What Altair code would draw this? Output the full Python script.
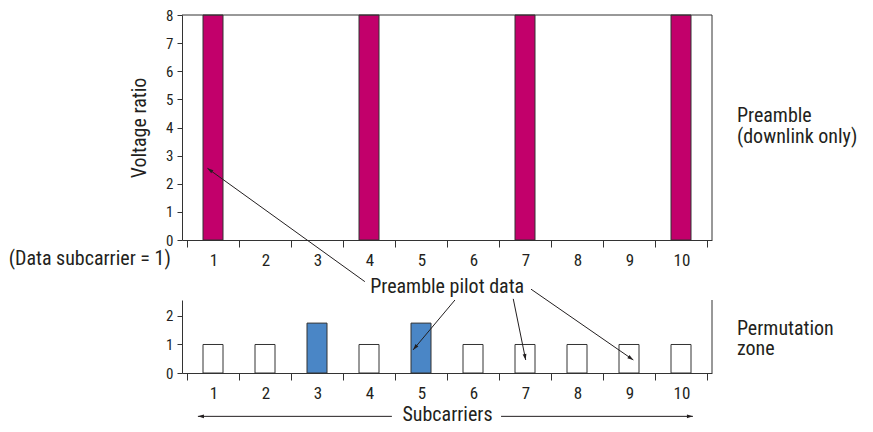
import math
import altair as alt
import pandas as pd

# ---------------- data ----------------
subcarriers = list(range(1, 11))
preamble_carriers = [1, 4, 7, 10]
preamble_ratio = [8, 8, 8, 8]
permutation_ratio = [1, 1, 1.75, 1, 1.75, 1, 1, 1, 1, 1]
permutation_kind = ["data", "data", "pilot", "data", "pilot",
                    "data", "data", "data", "data", "data"]
tick_positions = [i + 0.5 for i in range(11)]
top_y_ticks = list(range(0, 9))
bottom_y_ticks = [0, 1, 2]

note_text = ["(Data subcarrier = 1)", "Preamble", "(downlink only)",
             "Preamble pilot data", "Permutation", "zone"]
note_x = [-2.77, 10.97, 10.97, 4.05, 10.97, 10.97]
note_y = [-0.89, 4.19, 3.45, 2.81, 1.33, 0.63]
note_panel = ["top", "top", "top", "bottom", "bottom", "bottom"]

arrow_x1 = [3.95, 5.65, 6.75, 7.085, 4.46, 6.52]
arrow_y1 = [-1.48, 2.56, 2.60, 2.94, -1.52, -1.52]
arrow_x2 = [0.98, 4.86, 6.985, 9.016, 0.80, 10.14]
arrow_y2 = [2.55, 0.81, 0.456, 0.456, -1.52, -1.52]
arrow_panel = ["top", "bottom", "bottom", "bottom", "bottom", "bottom"]

# ---------------- layout / style ----------------
W, H = 530, 358
TOP_H = 225
BOT_TOP = 285
FONT = "Roboto Condensed, Liberation Sans Narrow, Arial Narrow, Roboto, sans-serif"
INK = "#231f20"
MAGENTA = "#c2006b"
BLUE = "#4a86c6"

X_DOM = [0.5, 10.5]
Y_TOP_DOM = [0, 8]
Y_BOT_DOM = [0, 2.56]

px_x = W / (X_DOM[1] - X_DOM[0])
px_top = TOP_H / (Y_TOP_DOM[1] - Y_TOP_DOM[0])
px_bot = (H - BOT_TOP) / (Y_BOT_DOM[1] - Y_BOT_DOM[0])


def xs():
    return alt.Scale(domain=X_DOM, zero=False, nice=False)


def yts():
    return alt.Scale(domain=Y_TOP_DOM, range=[TOP_H, 0], zero=False, nice=False)


def ybs():
    return alt.Scale(domain=Y_BOT_DOM, range=[H, BOT_TOP], zero=False, nice=False)


def x_axis(offset, title=None):
    kw = dict(
        values=tick_positions,
        labelExpr="datum.value < 10 ? format(datum.value + 0.5, 'd') : ''",
        labelOffset=px_x / 2,
        labelFlush=False,
        labelOverlap=False,
        labelBound=False,
        labelFontSize=17,
        tickSize=7,
        labelPadding=5,
        offset=offset,
        orient="bottom",
        grid=False,
    )
    if title:
        kw["title"] = title
        kw["titlePadding"] = 3
        kw["titleFontSize"] = 20
    else:
        kw["title"] = None
    return alt.Axis(**kw)


top_df = pd.DataFrame({"sub": preamble_carriers, "ratio": preamble_ratio})
bot_df = pd.DataFrame({"sub": subcarriers, "ratio": permutation_ratio,
                       "kind": permutation_kind})

top_bars = alt.Chart(top_df).mark_bar(
    width=20, orient="vertical", color=MAGENTA, stroke="#333333", strokeWidth=1
).encode(
    x=alt.X("sub:Q", scale=xs(), axis=x_axis(-(H - TOP_H))),
    y=alt.Y("ratio:Q", scale=yts(),
            axis=alt.Axis(values=top_y_ticks, title="Voltage ratio", tickSize=5,
                          labelPadding=4, labelFontSize=15, titlePadding=16,
                          titleFontSize=20, grid=False, orient="left")),
    y2=alt.datum(0),
)

bot_bars = alt.Chart(bot_df).mark_bar(
    width=20, orient="vertical", stroke="#333333", strokeWidth=1
).encode(
    x=alt.X("sub:Q", scale=xs(), axis=x_axis(0, "Subcarriers")),
    y=alt.Y("ratio:Q", scale=ybs(),
            axis=alt.Axis(values=bottom_y_ticks, title=None, tickSize=5,
                          labelPadding=4, labelFontSize=15, grid=False,
                          orient="left")),
    y2=alt.datum(0),
    fill=alt.Fill("kind:N", scale=alt.Scale(domain=["data", "pilot"],
                                            range=["white", BLUE]),
                  legend=None),
)

# frame lines (top panel box, bottom panel right edge)
frame_top_df = pd.DataFrame({"x": [X_DOM[0], X_DOM[1]], "x2": [X_DOM[1], X_DOM[1]],
                             "y": [Y_TOP_DOM[1], Y_TOP_DOM[0]],
                             "y2": [Y_TOP_DOM[1], Y_TOP_DOM[1]]})
frame_bot_df = pd.DataFrame({"x": [X_DOM[1]], "x2": [X_DOM[1]],
                             "y": [Y_BOT_DOM[0]], "y2": [Y_BOT_DOM[1]]})


def rules(df, yscale, color="#333333"):
    return alt.Chart(df).mark_rule(color=color, strokeWidth=1).encode(
        x=alt.X("x:Q", scale=xs(), axis=None),
        x2="x2:Q",
        y=alt.Y("y:Q", scale=yscale, axis=None),
        y2="y2:Q",
    )


frame_top = rules(frame_top_df, yts())
frame_bot = rules(frame_bot_df, ybs())

# arrows
arr = pd.DataFrame({"x": arrow_x1, "y": arrow_y1, "x2": arrow_x2, "y2": arrow_y2,
                    "panel": arrow_panel})
angles = []
for x1, y1, x2, y2, p in zip(arrow_x1, arrow_y1, arrow_x2, arrow_y2, arrow_panel):
    py = px_top if p == "top" else px_bot
    dx = (x2 - x1) * px_x
    dy = -(y2 - y1) * py
    angles.append(math.degrees(math.atan2(dx, -dy)) % 360)
arr["angle"] = angles

HEAD = "M0,0L0.6,1.9L-0.6,1.9Z"


def arrow_layers(panel, yscale):
    d = arr[arr["panel"] == panel]
    shaft = alt.Chart(d).mark_rule(color=INK, strokeWidth=1).encode(
        x=alt.X("x:Q", scale=xs(), axis=None),
        x2="x2:Q",
        y=alt.Y("y:Q", scale=yscale, axis=None),
        y2="y2:Q",
    )
    head = alt.Chart(d).mark_point(
        shape=HEAD, filled=True, color=INK, size=40, opacity=1
    ).encode(
        x=alt.X("x2:Q", scale=xs(), axis=None),
        y=alt.Y("y2:Q", scale=yscale, axis=None),
        angle=alt.Angle("angle:Q", scale=None),
    )
    return [shaft, head]


notes = pd.DataFrame({"text": note_text, "x": note_x, "y": note_y, "panel": note_panel})


def note_layer(panel, yscale):
    d = notes[notes["panel"] == panel]
    return alt.Chart(d).mark_text(
        align="left", baseline="alphabetic", font=FONT, fontSize=20, color=INK
    ).encode(
        x=alt.X("x:Q", scale=xs(), axis=None),
        y=alt.Y("y:Q", scale=yscale, axis=None),
        text="text:N",
    )


layers = [top_bars, bot_bars, frame_top, frame_bot]
layers += arrow_layers("top", yts())
layers += arrow_layers("bottom", ybs())
layers += [note_layer("top", yts()), note_layer("bottom", ybs())]

chart = alt.layer(*layers).resolve_scale(
    x="independent", y="independent"
).properties(
    width=W, height=H,
    background="white",
    autosize=alt.AutoSizeParams(type="none"),
    padding={"left": 174, "top": 7, "right": 150, "bottom": 51},
).configure_view(
    stroke=None
).configure_axis(
    labelFont=FONT, titleFont=FONT, labelColor=INK,
    titleColor=INK, titleFontWeight="normal", domainColor="#333333",
    tickColor="#333333", domainWidth=1, tickWidth=1,
)

chart.save("out.html", embed_options={"renderer": "svg", "actions": False})
